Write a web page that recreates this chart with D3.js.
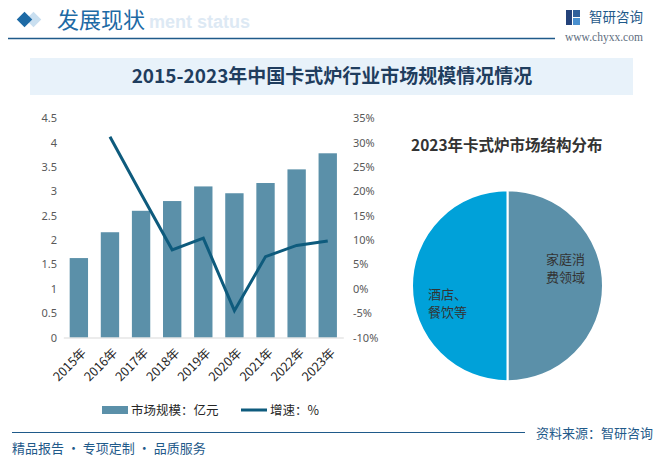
<!DOCTYPE html>
<html>
<head>
<meta charset="utf-8">
<script src="https://cdn.jsdelivr.net/npm/d3@7"></script>
<style>
html,body{margin:0;padding:0;background:#fff;}
svg{display:block;font-family:"Noto Sans CJK SC","Noto Sans",sans-serif;}
</style>
</head>
<body>
<svg id="c" width="664" height="460"></svg>
<script>
// ---- data ----
const years = ["2015年","2016年","2017年","2018年","2019年","2020年","2021年","2022年","2023年"];
const marketSize = [1.63, 2.16, 2.60, 2.80, 3.10, 2.96, 3.17, 3.45, 3.78];
const growthYears = ["2016年","2017年","2018年","2019年","2020年","2021年","2022年","2023年"];
const growth = [31.2, 19.5, 8.0, 10.4, -4.5, 6.6, 8.9, 9.8];
const leftTicks = [0, 0.5, 1, 1.5, 2, 2.5, 3, 3.5, 4, 4.5];
const rightTicks = [-10, -5, 0, 5, 10, 15, 20, 25, 30, 35];
const pieLabels = ["家庭消费领域", "酒店、餐饮等"];
const pieValues = [50, 50];
const legendLabels = ["市场规模：亿元", "增速：%"];

const svg = d3.select("#c");

// ---- header ----
svg.append("text").attr("x", 149).attr("y", 28).text("ment status")
  .attr("font-family", "Arial, Liberation Sans, sans-serif").attr("font-weight", "bold")
  .attr("font-size", 18).attr("fill", "#dde9f4");
svg.append("rect").attr("x", 28).attr("y", 14).attr("width", 11).attr("height", 11)
  .attr("transform", "rotate(45 33.5 19.5)").attr("fill", "#c9dff0");
svg.append("rect").attr("x", 19).attr("y", 14).attr("width", 11).attr("height", 11)
  .attr("transform", "rotate(45 24.5 19.5)").attr("fill", "#1d6aa5");
svg.append("text").attr("x", 57).attr("y", 28).text("发展现状")
  .attr("font-size", 22).attr("fill", "#1d6aa5");
svg.append("line").attr("x1", 8).attr("x2", 555).attr("y1", 38.5).attr("y2", 38.5)
  .attr("stroke", "#1f5a8a").attr("stroke-width", 1.5);
// logo
const lg = svg.append("g").attr("transform", "translate(566,10)");
lg.append("rect").attr("x", 0).attr("y", 0).attr("width", 6).attr("height", 15).attr("fill", "#24427a");
lg.append("rect").attr("x", 7).attr("y", 0).attr("width", 7).attr("height", 7).attr("fill", "#2f5f9a");
lg.append("rect").attr("x", 7).attr("y", 8).attr("width", 7).attr("height", 7).attr("fill", "#4a90cf");
svg.append("text").attr("x", 589).attr("y", 22).text("智研咨询")
  .attr("font-size", 13.5).attr("fill", "#1f5a8a");
svg.append("text").attr("x", 565).attr("y", 41).text("www.chyxx.com")
  .attr("font-family", "Liberation Serif, DejaVu Serif, serif").attr("font-size", 11.5)
  .attr("fill", "#5e6e80");

// ---- title band ----
svg.append("rect").attr("x", 30).attr("y", 58).attr("width", 603).attr("height", 37).attr("fill", "#e8f2fa");
svg.append("text").attr("x", 332).attr("y", 83).attr("text-anchor", "middle")
  .text("2015-2023年中国卡式炉行业市场规模情况情况")
  .attr("font-size", 19).attr("font-weight", "bold").attr("fill", "#1f3d5e");

// ---- combo chart ----
const x = d3.scaleBand().domain(years).range([63.3, 343.3]).paddingInner(0.41).paddingOuter(0.205);
const yL = d3.scaleLinear().domain([0, 4.5]).range([337.5, 118.2]);
const yR = d3.scaleLinear().domain([-10, 35]).range([337.5, 118.2]);

const axL = svg.append("g").attr("transform", "translate(57,0)")
  .call(d3.axisLeft(yL).tickValues(leftTicks).tickSize(0).tickPadding(0).tickFormat(d3.format("~g")));
axL.select(".domain").remove();
axL.selectAll("text").attr("font-size", 11).attr("fill", "#595959").attr("font-family", "Noto Sans, sans-serif");

const axR = svg.append("g").attr("transform", "translate(353,0)")
  .call(d3.axisRight(yR).tickValues(rightTicks).tickSize(0).tickPadding(0).tickFormat(d => d + "%"));
axR.select(".domain").remove();
axR.selectAll("text").attr("font-size", 11).attr("fill", "#595959").attr("font-family", "Noto Sans, sans-serif");

svg.append("g").selectAll("rect").data(marketSize).join("rect")
  .attr("x", (d, i) => x(years[i])).attr("width", x.bandwidth())
  .attr("y", d => yL(d)).attr("height", d => yL(0) - yL(d))
  .attr("fill", "#5b90a9");

const axB = svg.append("g").attr("transform", "translate(0,337.5)")
  .call(d3.axisBottom(x).tickSize(0).tickPadding(0));
axB.select(".domain").attr("stroke", "#d9d9d9");
axB.selectAll("text")
  .attr("text-anchor", "end")
  .attr("font-size", 12.5).attr("fill", "#262626").attr("font-family", "Noto Sans CJK SC, sans-serif")
  .attr("transform", "translate(5,13) rotate(-45)")
  .attr("dy", "0.35em").attr("y", 0);

const line = d3.line().x((d, i) => x(growthYears[i]) + x.bandwidth() / 2).y(d => yR(d));
svg.append("path").datum(growth).attr("d", line)
  .attr("fill", "none").attr("stroke", "#0e5b7d").attr("stroke-width", 3).attr("stroke-linejoin", "miter");

// legend
svg.append("rect").attr("x", 102).attr("y", 406).attr("width", 26).attr("height", 8).attr("fill", "#5b90a9");
svg.append("text").attr("x", 131).attr("y", 414.5).text(legendLabels[0]).attr("font-size", 12.5).attr("fill", "#262626");
svg.append("line").attr("x1", 241).attr("x2", 267).attr("y1", 410).attr("y2", 410).attr("stroke", "#0e5b7d").attr("stroke-width", 3);
svg.append("text").attr("x", 270).attr("y", 414.5).text(legendLabels[1]).attr("font-size", 12.5).attr("fill", "#262626");

// ---- pie ----
svg.append("text").attr("x", 411).attr("y", 151).text("2023年卡式炉市场结构分布")
  .attr("font-size", 15.5).attr("font-weight", "bold").attr("fill", "#333");
const pie = d3.pie().sort(null).startAngle(0).endAngle(2 * Math.PI)(pieValues);
const arc = d3.arc().innerRadius(0).outerRadius(95.5);
const pieColors = ["#5b90a9", "#00a1d9"];
const pg = svg.append("g").attr("transform", "translate(507.5,285.7)");
pg.selectAll("path").data(pie).join("path").attr("d", arc)
  .attr("fill", (d, i) => pieColors[i]).attr("stroke", "#fff").attr("stroke-width", 2);
const labelPos = [[546, 264], [428, 299]];
pieLabels.forEach((t, i) => {
  const tx = pg.append("text").attr("font-size", 13).attr("fill", "#333")
    .attr("transform", `translate(${labelPos[i][0] - 507.5},${labelPos[i][1] - 285.7})`);
  tx.append("tspan").attr("x", 0).attr("y", 0).text(t.slice(0, 3));
  tx.append("tspan").attr("x", 0).attr("y", 18).text(t.slice(3));
});

// ---- footer ----
svg.append("line").attr("x1", 12).attr("x2", 525).attr("y1", 432.5).attr("y2", 432.5)
  .attr("stroke", "#1f5a8a").attr("stroke-width", 1.2);
svg.append("text").attr("x", 536).attr("y", 438).text("资料来源：智研咨询").attr("font-size", 13).attr("fill", "#1f5a8a");
svg.append("text").attr("x", 12).attr("y", 453).text("精品报告 · 专项定制 · 品质服务").attr("font-size", 13).attr("fill", "#1f5a8a");
</script>
</body>
</html>
